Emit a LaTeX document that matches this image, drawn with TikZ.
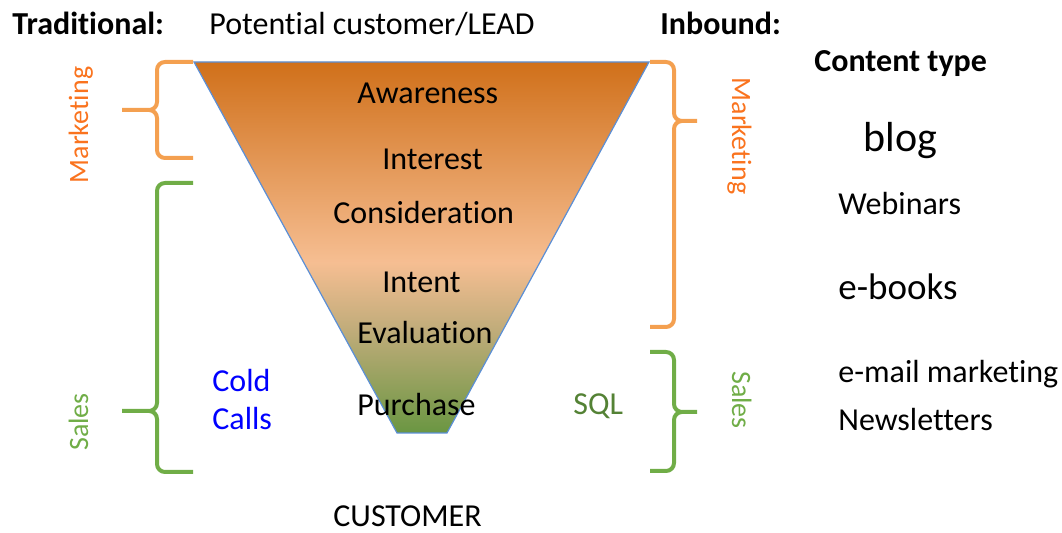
\documentclass[tikz,border=0pt]{standalone}
\usepackage{fontspec}
\setmainfont{Carlito}[Ligatures = NoCommon]
\usepackage{tikz}

\definecolor{forange}{RGB}{208,112,26}
\definecolor{fpeach}{RGB}{246,190,146}
\definecolor{ftan}{RGB}{192,172,122}
\definecolor{fgreen}{RGB}{106,150,66}
\definecolor{fline}{RGB}{91,143,214}
\definecolor{mkorange}{RGB}{250,115,30}
\definecolor{brorange}{RGB}{244,160,80}
\definecolor{slgreen}{RGB}{112,173,71}
\definecolor{sqlgreen}{RGB}{84,130,53}

\pgfdeclareverticalshading{funnelfill}{100bp}{color(0bp)=(fgreen); color(25bp)=(fgreen); color(38.9bp)=(ftan); color(48bp)=(fpeach); color(75bp)=(forange); color(100bp)=(forange)}

\tikzset{
	txt/.style = {inner sep = 0pt, anchor = base west, font = \fontsize{16}{19}\selectfont},
	side/.style = {inner sep = 0pt, anchor = base, font = \fontsize{14}{17}\selectfont},
	bracepath/.style = {line width = 2pt, rounded corners = 4pt},
}

\begin{document}
\begin{tikzpicture}[x = .5pt, y = -.5pt]
	\useasboundingbox (0,0) rectangle (1062,533);
	% funnel
	\coordinate (ftl) at (194,62);
	\coordinate (ftr) at (649,62);
	\coordinate (fbr) at (447,433);
	\coordinate (fbl) at (397,433);
	\path [shading = funnelfill, draw = fline, line width = .6pt] (ftl) -- (ftr) -- (fbr) -- (fbl) -- cycle;
	\node [txt] (aware) at (357,104) {Awareness};
	\node [txt] (inter) at (382,170) {Interest};
	\node [txt] (consid) at (333,224) {Consideration};
	\node [txt] (intent) at (382,293) {Intent};
	\node [txt] (evalu) at (357,344) {Evaluation};
	\node [txt] (purch) at (357,416) {Purchase};
	% headings
	\node [txt] (trad) at (12,35) {\bfseries Traditional:};
	\node [txt] (lead) at (209,35) {Potential customer/LEAD};
	\node [txt] (inb) at (660,35) {\bfseries Inbound:};
	\node [txt] (ctype) at (814,72) {\bfseries Content type};
	\node [txt] (cust) at (333,527) {CUSTOMER};
	% braces
	\draw [bracepath, brorange] (193,62) -- (157,62) -- (157,110) -- (122,110) (122,110) -- (157,110) -- (157,158) -- (193,158);
	\draw [bracepath, slgreen] (193,183) -- (157,183) -- (157,411) -- (122,411) (122,411) -- (157,411) -- (157,472) -- (193,472);
	\draw [bracepath, brorange] (650,62) -- (674,62) -- (674,121) -- (697,121) (697,121) -- (674,121) -- (674,327) -- (650,327);
	\draw [bracepath, slgreen] (650,352) -- (674,352) -- (674,412) -- (697,412) (697,412) -- (674,412) -- (674,471) -- (650,471);
	\node [side, mkorange, rotate = 90] (mkleft) at (88,125) {Marketing};
	\node [side, slgreen, rotate = 90] (slleft) at (88,422) {Sales};
	\node [side, mkorange, rotate = -90] (mkright) at (732,136) {Marketing};
	\node [side, slgreen, rotate = -90] (slright) at (732,400) {Sales};
	\node [txt, blue] (cold) at (212,392) {Cold};
	\node [txt, blue] (calls) at (212,430) {Calls};
	\node [txt, sqlgreen] (sql) at (573,415) {SQL};
	% content types
	\node [txt, font = \fontsize{21}{25}\selectfont] (blog) at (863,152) {blog};
	\node [txt] (webin) at (838,215) {Webinars};
	\node [txt, font = \fontsize{18.5}{22}\selectfont] (ebook) at (838,300) {e-books};
	\node [txt] (email) at (838,383) {e-mail marketing};
	\node [txt] (news) at (838,431) {Newsletters};
\end{tikzpicture}
\end{document}
